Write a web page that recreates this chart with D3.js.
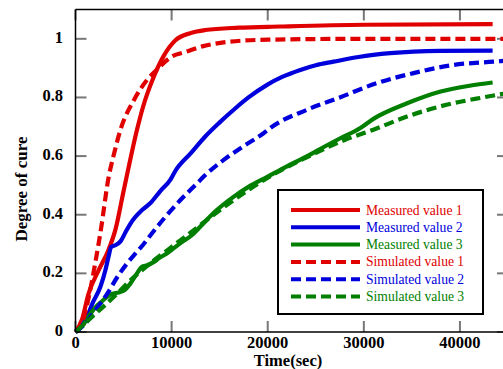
<!DOCTYPE html>
<html><head><meta charset="utf-8">
<script src="https://cdn.jsdelivr.net/npm/d3@7"></script>
<style>html,body{margin:0;padding:0;background:#fff;overflow:hidden}</style>
</head><body><svg id="c" width="503" height="369"></svg>
<script>
const xTicks = [0, 10000, 20000, 30000, 40000];
const yTicks = [0, 0.2, 0.4, 0.6, 0.8, 1];
const yTickLabels = ["0", "0.2", "0.4", "0.6", "0.8", "1"];
const seriesNames = ["Measured value 1","Measured value 2","Measured value 3","Simulated value 1","Simulated value 2","Simulated value 3"];
const seriesColors = ["#e00000","#0000dd","#007f00","#e00000","#0000dd","#007f00"];
const seriesDashed = [false,false,false,true,true,true];

const measured1 = [[0,0],[700,0.045],[1350,0.13],[2400,0.21],[3430,0.28],[4160,0.35],[5000,0.48],[6400,0.69],[7000,0.765],[8100,0.867],[9150,0.94],[10400,0.995],[12000,1.02],[13500,1.03],[17000,1.038],[21300,1.042],[30000,1.048],[43400,1.05]];
const measured2 = [[0,0],[500,0.015],[1040,0.04],[1800,0.1],[2600,0.155],[3100,0.21],[3460,0.26],[3700,0.29],[4200,0.297],[4700,0.31],[5200,0.34],[5720,0.37],[6930,0.416],[7800,0.44],[8800,0.48],[9880,0.52],[10400,0.55],[12000,0.61],[13500,0.667],[15000,0.715],[16460,0.758],[18000,0.8],[19930,0.843],[21500,0.87],[23390,0.894],[25000,0.91],[26850,0.922],[29450,0.938],[32740,0.951],[37940,0.959],[43400,0.96]];
const measured3 = [[0,0],[700,0.02],[1500,0.06],[2100,0.085],[2600,0.1],[3300,0.12],[3800,0.13],[4500,0.135],[5200,0.145],[5700,0.165],[6400,0.2],[6900,0.222],[7500,0.228],[8200,0.24],[8700,0.252],[9500,0.268],[10200,0.285],[11000,0.305],[12100,0.33],[13000,0.36],[14500,0.41],[16400,0.46],[18000,0.495],[20000,0.53],[22000,0.565],[24000,0.598],[25500,0.625],[27500,0.66],[29600,0.695],[31000,0.727],[34500,0.78],[38000,0.82],[41000,0.84],[43400,0.851]];
const simulated1 = [[0,0],[500,0.02],[1000,0.065],[1450,0.13],[2080,0.24],[2600,0.34],[3460,0.53],[3950,0.6],[4680,0.69],[6060,0.79],[7450,0.86],[8320,0.89],[10050,0.94],[11430,0.955],[13300,0.975],[16000,0.99],[20000,0.997],[30000,1.0],[45000,1.0]];
const simulated2 = [[0,0],[1040,0.03],[2200,0.08],[3290,0.13],[4500,0.195],[5370,0.234],[6240,0.268],[7100,0.30],[7800,0.33],[9360,0.393],[11090,0.456],[12650,0.507],[13340,0.53],[15420,0.587],[17400,0.632],[19570,0.678],[20450,0.70],[24090,0.758],[27500,0.80],[31360,0.849],[35170,0.883],[39330,0.911],[43480,0.922],[45000,0.926]];
const simulated3 = [[0,0],[2000,0.06],[4000,0.12],[6000,0.185],[8000,0.24],[10000,0.29],[12000,0.34],[15000,0.415],[18000,0.485],[21000,0.545],[24000,0.595],[28000,0.655],[31000,0.69],[34500,0.735],[38600,0.775],[42400,0.80],[45000,0.815]];
const allSeries = [measured1, measured2, measured3, simulated1, simulated2, simulated3];

const svg = d3.select("#c");
const L = 75.5, R = 508, T = 9.5, B = 332;
const x = d3.scaleLinear().domain([0, 45000]).range([L, R]);
const y = d3.scaleLinear().domain([0, 1.1]).range([B, T]);

const font = "'Liberation Serif','Times New Roman',serif";

const tickColor = "#777";
const gT = svg.append("g");
xTicks.forEach(t => {
  gT.append("line").attr("x1", x(t)).attr("x2", x(t)).attr("y1", B).attr("y2", B - 11).attr("stroke", tickColor).attr("stroke-width", 2);
  gT.append("line").attr("x1", x(t)).attr("x2", x(t)).attr("y1", T).attr("y2", T + 11).attr("stroke", tickColor).attr("stroke-width", 2);
});
yTicks.forEach(t => {
  gT.append("line").attr("x1", L).attr("x2", L + 11).attr("y1", y(t)).attr("y2", y(t)).attr("stroke", tickColor).attr("stroke-width", 2);
  gT.append("line").attr("x1", R).attr("x2", R - 11).attr("y1", y(t)).attr("y2", y(t)).attr("stroke", tickColor).attr("stroke-width", 2);
});

const line = d3.line().x(d => x(d[0])).y(d => y(d[1])).curve(d3.curveMonotoneX);
allSeries.forEach((s, i) => {
  svg.append("path").attr("d", line(s)).attr("fill", "none")
    .attr("stroke", seriesColors[i]).attr("stroke-width", 4.2)
    .attr("stroke-dasharray", seriesDashed[i] ? "10,5" : null);
});

svg.append("line").attr("x1", L).attr("x2", 503).attr("y1", T).attr("y2", T).attr("stroke", "#000").attr("stroke-width", 1.5);
svg.append("line").attr("x1", L).attr("x2", 503).attr("y1", B).attr("y2", B).attr("stroke", "#000").attr("stroke-width", 1.5);
svg.append("line").attr("x1", L).attr("x2", L).attr("y1", T).attr("y2", B).attr("stroke", "#000").attr("stroke-width", 1.5);

xTicks.forEach(t => {
  svg.append("text").attr("x", x(t)).attr("y", 348).attr("text-anchor", "middle")
    .attr("font-family", font).attr("font-weight", "bold").attr("font-size", 16.5).text(d3.format("d")(t));
});
yTicks.forEach((t, i) => {
  svg.append("text").attr("x", 63).attr("y", y(t) + 4).attr("text-anchor", "end")
    .attr("font-family", font).attr("font-weight", "bold").attr("font-size", 16.5).text(yTickLabels[i]);
});

svg.append("text").attr("x", 288).attr("y", 366).attr("text-anchor", "middle")
  .attr("font-family", font).attr("font-weight", "bold").attr("font-size", 16.5).text("Time(sec)");
svg.append("text").attr("transform", "translate(27,189) rotate(-90)").attr("text-anchor", "middle")
  .attr("font-family", font).attr("font-weight", "bold").attr("font-size", 17).text("Degree of cure");

const lg = svg.append("g");
lg.append("rect").attr("x", 278).attr("y", 190).attr("width", 205).attr("height", 124)
  .attr("fill", "#fff").attr("stroke", "#000").attr("stroke-width", 2);
seriesNames.forEach((n, i) => {
  const yy = 210 + i * 17.3;
  lg.append("line").attr("x1", 291).attr("x2", 360).attr("y1", yy).attr("y2", yy)
    .attr("stroke", seriesColors[i]).attr("stroke-width", 4)
    .attr("stroke-dasharray", seriesDashed[i] ? "10,5" : null);
  lg.append("text").attr("x", 366).attr("y", yy + 4.5).attr("font-family", font)
    .attr("font-size", 13.6).attr("fill", seriesColors[i]).text(n);
});
</script></body></html>
